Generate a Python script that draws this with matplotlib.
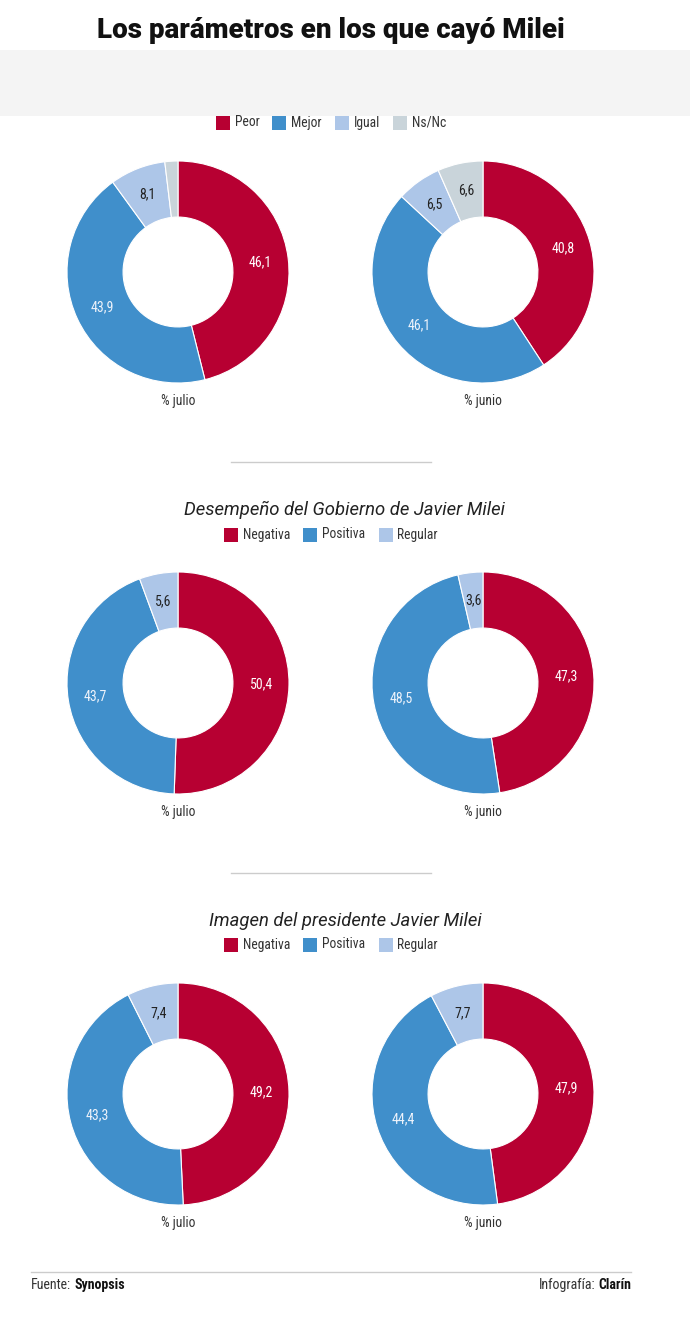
import matplotlib
matplotlib.use('Agg')
import matplotlib.pyplot as plt
from matplotlib import font_manager
from matplotlib.patches import Rectangle
from matplotlib.lines import Line2D
import numpy as np

# ── data ──────────────────────────────────────────────────────────────────────
title = "Los parámetros en los que cayó Milei"

legend_1 = ["Peor", "Mejor", "Igual", "Ns/Nc"]
julio_1 = [46.1, 43.9, 8.1, 1.9]
junio_1 = [40.8, 46.1, 6.5, 6.6]

subtitle_2 = "Desempeño del Gobierno de Javier Milei"
legend_2 = ["Negativa", "Positiva", "Regular"]
julio_2 = [50.4, 43.7, 5.6]
junio_2 = [47.3, 48.5, 3.6]

subtitle_3 = "Imagen del presidente Javier Milei"
legend_3 = ["Negativa", "Positiva", "Regular"]
julio_3 = [49.2, 43.3, 7.4]
junio_3 = [47.9, 44.4, 7.7]

month_labels = ["% julio", "% junio"]

colors = ["#b70032", "#408fcb", "#adc6e8", "#c9d4da"]
text_colors = ["#ffffff", "#eef3fb", "#222222", "#222222"]

# ── fonts ─────────────────────────────────────────────────────────────────────
installed = {f.name for f in font_manager.fontManager.ttflist}
narrow = next((f for f in ["Roboto Condensed", "Liberation Sans Narrow"]
               if f in installed), "Roboto")
plt.rcParams['font.family'] = [narrow, 'DejaVu Sans']

W, H = 690, 1344
fig = plt.figure(figsize=(W / 100, H / 100), dpi=100)
bg = fig.add_axes([0, 0, 1, 1])
bg.set_xlim(0, W)
bg.set_ylim(H, 0)
bg.axis('off')
renderer = fig.canvas.get_renderer()


def text_width(s, **kw):
    t = bg.text(0, 0, s, **kw)
    w = t.get_window_extent(renderer).width
    t.remove()
    return w


def donut(cx, cy, values, label):
    r = 111
    ax = fig.add_axes([(cx - r) / W, 1 - (cy + r) / H, 2 * r / W, 2 * r / H])
    ax.pie(values, colors=colors[:len(values)], startangle=90,
           counterclock=False, radius=1,
           wedgeprops=dict(width=0.505, edgecolor='white', linewidth=0.8))
    ax.set_xlim(-1, 1)
    ax.set_ylim(-1, 1)
    ax.set_aspect('equal')
    total = sum(values)
    start = 0.0
    for i, v in enumerate(values):
        mid = (start + v / 2) / total * 2 * np.pi
        start += v
        if v < 2:
            continue
        rr = 0.75
        ax.text(rr * np.sin(mid), rr * np.cos(mid),
                f"{v:.1f}".replace('.', ','), ha='center', va='center',
                fontsize=10, color=text_colors[i])
    bg.text(cx, cy + 129, label, ha='center', va='center',
            fontsize=9.8, color='#333333')


def legend(y, names, cx=331, sq=14, pad=5, gap=13):
    widths = [text_width(n, fontsize=9.8) for n in names]
    total = sum(sq + pad + w for w in widths) + gap * (len(names) - 1)
    x = cx - total / 2
    for i, (name, w) in enumerate(zip(names, widths)):
        bg.add_patch(Rectangle((x, y - 7), sq, sq, color=colors[i], lw=0))
        bg.text(x + sq + pad, y + 3.5, name, ha='left', va='baseline',
                fontsize=9.8, color='#333333')
        x += sq + pad + w + gap


# title + grey band
bg.text(331, 30, title, ha='center', va='center', fontsize=20,
        fontweight='heavy', family=['Roboto', 'DejaVu Sans'], color='#111111')
bg.add_patch(Rectangle((0, 50), W, 66, color='#f4f4f4', lw=0))

# section 1
legend(123, legend_1)
donut(178, 272, julio_1, month_labels[0])
donut(483, 272, junio_1, month_labels[1])
bg.add_line(Line2D([231, 431], [462, 462], color='#cccccc', lw=1))

# section 2
bg.text(345, 510, subtitle_2, ha='center', va='center', fontsize=13.3,
        style='italic', family=['Roboto', 'DejaVu Sans'], color='#222222')
legend(535, legend_2)
donut(178, 683, julio_2, month_labels[0])
donut(483, 683, junio_2, month_labels[1])
bg.add_line(Line2D([231, 431], [873, 873], color='#cccccc', lw=1))

# section 3
bg.text(345, 921, subtitle_3, ha='center', va='center', fontsize=13.3,
        style='italic', family=['Roboto', 'DejaVu Sans'], color='#222222')
legend(945, legend_3)
donut(178, 1094, julio_3, month_labels[0])
donut(483, 1094, junio_3, month_labels[1])

# footer
fy = 1289
bg.add_line(Line2D([31, 631], [1272, 1272], color='#cccccc', lw=1))
w1 = text_width("Fuente:", fontsize=10)
bg.text(31, fy, "Fuente:", ha='left', va='baseline', fontsize=10,
        color='#333333')
bg.text(31 + w1 + 3, fy, "Synopsis", ha='left', va='baseline', fontsize=10,
        fontweight='bold', color='#111111')
w2 = text_width("Clarín", fontsize=10, fontweight='bold')
bg.text(631, fy, "Clarín", ha='right', va='baseline', fontsize=10,
        fontweight='bold', color='#111111')
bg.text(631 - w2 - 3, fy, "Infografía:", ha='right', va='baseline',
        fontsize=10, color='#333333')

fig.savefig("out.png", dpi=100)
